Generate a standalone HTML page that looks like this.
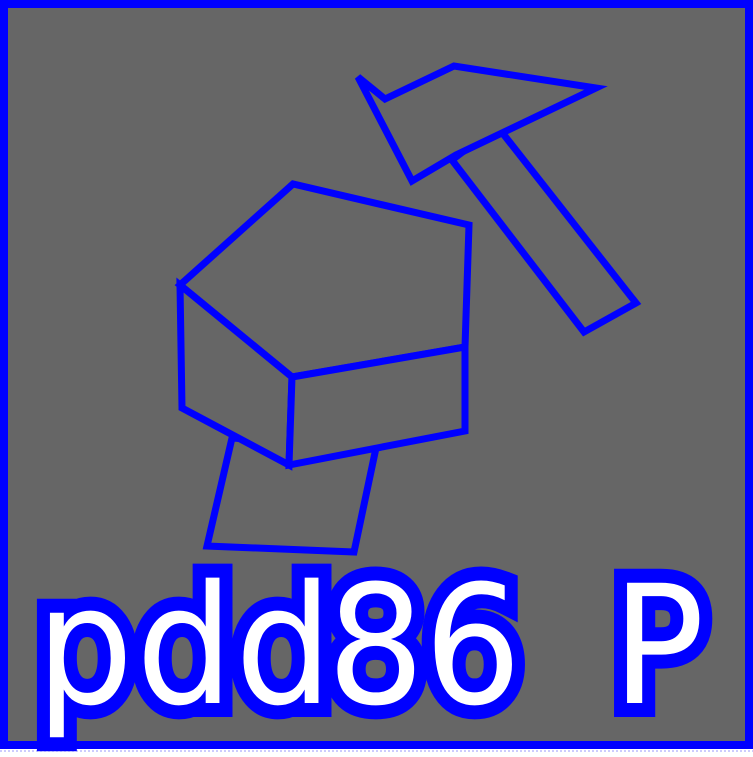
<!DOCTYPE html>
<html><head><meta charset="utf-8"><style>
html,body{margin:0;padding:0;background:#fff;width:753px;height:757px;overflow:hidden}
svg{display:block}
</style></head><body>
<svg width="753" height="757" viewBox="0 0 753 757" xmlns="http://www.w3.org/2000/svg">
<rect x="4" y="4" width="745" height="741" fill="#666666" stroke="#0000ff" stroke-width="8"/>
<line x1="0" y1="751" x2="753" y2="751" stroke="#9999ff" stroke-width="1" stroke-dasharray="2,2"/>
<g fill="none" stroke="#0000ff" stroke-width="7" stroke-linejoin="miter">
<polygon points="232,438 207,546 354,552 376,448"/>
<polygon points="180,285 293,184 469,225 465,347 292,377"/>
<polygon fill="#666666" points="180,285 182,408 289,465 292,377"/>
<polygon fill="#666666" points="292,377 289,465 465,431 465,347"/>
<polygon points="452,160 497,126 636,303 584,332"/>
<polygon fill="#666666" points="358,77 385,99 454,66 596,88 456,155 412,181"/>
</g>
<g font-family="DejaVu Sans, sans-serif" font-size="165" fill="#ffffff" stroke="#0000ff" stroke-width="28" stroke-linejoin="miter" stroke-miterlimit="2" paint-order="stroke">
<text x="0" y="703" transform="translate(36,0) scale(0.93,1)">p</text>
<text x="0" y="703" transform="translate(136,0) scale(0.93,1)">d</text>
<text x="0" y="703" transform="translate(235,0) scale(0.93,1)">d</text>
<text x="0" y="703" transform="translate(327,0) scale(0.93,1)">8</text>
<text x="0" y="703" transform="translate(424,0) scale(0.93,1)">6</text>
<text x="0" y="703" transform="translate(612,0) scale(0.93,1)">P</text>
</g>
</svg>
</body></html>
